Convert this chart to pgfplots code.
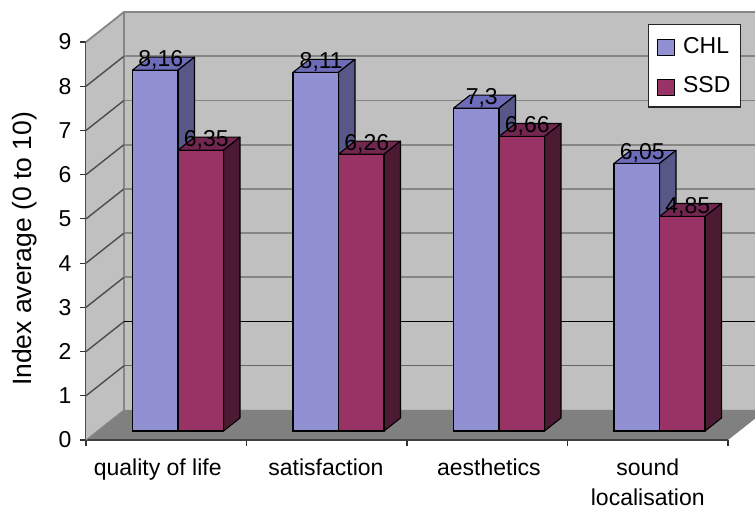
\documentclass[border=0pt]{standalone}
\usepackage{fontspec}
\setmainfont{Liberation Sans}
\usepackage{pgfplots}
\pgfplotsset{compat=1.18}
\newcommand\lab{\fontsize{23pt}{30.5pt}\selectfont}
\definecolor{wall}{HTML}{C0C0C0}
\definecolor{floorc}{HTML}{808080}
\definecolor{gridc}{HTML}{868686}
\definecolor{chl}{HTML}{9090D2}
\definecolor{chltop}{HTML}{6C6CB8}
\definecolor{chlside}{HTML}{575788}
\definecolor{ssd}{HTML}{993366}
\definecolor{ssdtop}{HTML}{732650}
\definecolor{ssdside}{HTML}{4D1A33}
% top and side faces of a bar: left edge, value, colours
\newcommand\depthfaces[4]{%
  \pgfmathsetmacro\xr{#1+0.2835}%
  \pgfmathsetmacro\xa{#1+0.1028}%
  \pgfmathsetmacro\xb{\xr+0.1028}%
  \pgfmathsetmacro\yt{#2+0.2941}%
  \edef\temp{\noexpand\addplot[forget plot,fill=#3,draw=black,line width=1.1pt,line join=round]
    coordinates {(#1,#2) (\xr,#2) (\xb,\yt) (\xa,\yt)} --cycle;
    \noexpand\addplot[forget plot,fill=#4,draw=black,line width=1.1pt,line join=round]
    coordinates {(\xr,#2) (\xb,\yt) (\xb,0.2941) (\xr,0)} --cycle;}%
  \temp}
\pgfplotsset{
  stage/.style={
    scale only axis,width=669pt,height=398pt,
    at={(86pt,69pt)},anchor=south west,clip=false,
    /pgf/number format/assume math mode=true},
  barstyle/.style={ybar,bar width=45.5pt,draw=black,line width=1.1pt,
    nodes near coords,
    nodes near coords style={font=\lab,text=black,inner sep=0pt,anchor=base,
      xshift=#1,yshift=3.5pt,
      /pgf/number format/.cd,fixed,use comma,precision=2,assume math mode=true}},
}
\begin{document}
\begin{tikzpicture}
\path[use as bounding box] (0pt,0pt) rectangle (755pt,509pt);
% room: walls, floor, grid, axes
\begin{axis}[stage,
  xmin=0,xmax=4.168,ymin=0,ymax=9,
  axis x line*=bottom,axis y line*=left,
  x axis line style={draw=none,-},
  y axis line style={draw=black!70,line width=1.3pt,-},
  xtick={0,1,2,3,4},xticklabels={},
  ytick={0,1,...,9},
  major tick length=6pt,
  every tick/.style={black!80,line width=1.2pt},
  tick align=outside,
  tick label style={font=\lab},
  yticklabel style={xshift=-5pt},
  extra x ticks={0.447,1.495,2.51,3.5},
  extra x tick labels={quality of life,satisfaction,aesthetics,{sound\\localisation}},
  extra x tick style={major tick length=0pt,
    xticklabel style={align=center,anchor=north,font=\lab,yshift=-15pt}},
  every axis y label/.style={at={(axis description cs:-0.092,0.48)},rotate=90,anchor=center},
  ylabel={\fontsize{26.5pt}{30pt}\selectfont Index average (0 to 10)},
]
\addplot[fill=wall,draw=none] coordinates {(0,0) (0.2368,0.679) (0.2368,9.679) (0,9)} --cycle;
\addplot[fill=wall,draw=none] coordinates {(0.2368,0.679) (4.168,0.679) (4.168,9.679) (0.2368,9.679)} --cycle;
\addplot[fill=floorc,draw=none] coordinates {(0,0) (4,0) (4.168,0.482) (4.168,0.679) (0.2368,0.679)} --cycle;
\addplot[draw=gridc,line width=1.8pt] coordinates {(0,9) (0.2368,9.679) (4.168,9.679)};
\addplot[draw=gridc,line width=1.2pt] coordinates {(0.2368,0.679) (0.2368,9.679)};
\addplot[draw=black!70,line width=1.4pt] coordinates {(0,8) (0.2368,8.679)};
\addplot[draw=gridc,line width=1.8pt] coordinates {(0.2368,8.679) (4.168,8.679)};
\addplot[draw=black!70,line width=1.4pt] coordinates {(0,7) (0.2368,7.679)};
\addplot[draw=gridc,line width=1.8pt] coordinates {(0.2368,7.679) (4.168,7.679)};
\addplot[draw=black!70,line width=1.4pt] coordinates {(0,6) (0.2368,6.679)};
\addplot[draw=gridc,line width=1.8pt] coordinates {(0.2368,6.679) (4.168,6.679)};
\addplot[draw=black!70,line width=1.4pt] coordinates {(0,5) (0.2368,5.679)};
\addplot[draw=gridc,line width=1.8pt] coordinates {(0.2368,5.679) (4.168,5.679)};
\addplot[draw=black!70,line width=1.4pt] coordinates {(0,4) (0.2368,4.679)};
\addplot[draw=gridc,line width=1.8pt] coordinates {(0.2368,4.679) (4.168,4.679)};
\addplot[draw=black!70,line width=1.4pt] coordinates {(0,3) (0.2368,3.679)};
\addplot[draw=gridc,line width=1.8pt] coordinates {(0.2368,3.679) (4.168,3.679)};
\addplot[draw=black!70,line width=1.4pt] coordinates {(0,2) (0.2368,2.679)};
\addplot[draw=black,line width=1.1pt] coordinates {(0.2368,2.679) (4.168,2.679)};
\addplot[draw=black!70,line width=1.4pt] coordinates {(0,1) (0.2368,1.679)};
\addplot[draw=black!60,line width=1.1pt] coordinates {(0.2368,1.679) (4.168,1.679)};
\addplot[draw=black!75,line width=2pt] coordinates {(0,0) (4,0)};
\addplot[draw=gridc,line width=1pt] coordinates {(0,0) (0.2368,0.679)};
\end{axis}
% bars, measured from their own base line on the floor
\begin{axis}[stage,hide axis,
  xmin=-0.5732,xmax=3.595,ymin=-0.2036,ymax=8.7964,
  legend style={at={(0.979,1.0445)},anchor=north east,draw=black!85,line width=1.1pt,
    fill=white,font=\lab,inner xsep=8pt,inner ysep=10.5pt,
    /tikz/every odd column/.append style={column sep=6.5pt},
    row sep=18pt,cells={anchor=west}},
]
\depthfaces{-0.2835}{8.16}{chltop}{chlside}
\depthfaces{0.7165}{8.11}{chltop}{chlside}
\depthfaces{1.7165}{7.3}{chltop}{chlside}
\depthfaces{2.7165}{6.05}{chltop}{chlside}
\addplot[barstyle=-17.25pt,bar shift=-22.75pt,fill=chl,legend image code/.code={\draw[fill=chl,draw=black,line width=1.1pt] (0pt,-9.5pt) rectangle (17pt,6.5pt);}]
  coordinates {(0,8.16) (1,8.11) (2,7.3) (3,6.05)};
\addlegendentry{CHL}
\depthfaces{0}{6.35}{ssdtop}{ssdside}
\depthfaces{1}{6.26}{ssdtop}{ssdside}
\depthfaces{2}{6.66}{ssdtop}{ssdside}
\depthfaces{3}{4.85}{ssdtop}{ssdside}
\addplot[barstyle=28.25pt,bar shift=22.75pt,fill=ssd,legend image code/.code={\draw[fill=ssd,draw=black,line width=1.1pt] (0pt,-9.5pt) rectangle (17pt,6.5pt);}]
  coordinates {(0,6.35) (1,6.26) (2,6.66) (3,4.85)};
\addlegendentry{SSD}
\end{axis}
\end{tikzpicture}
\end{document}
